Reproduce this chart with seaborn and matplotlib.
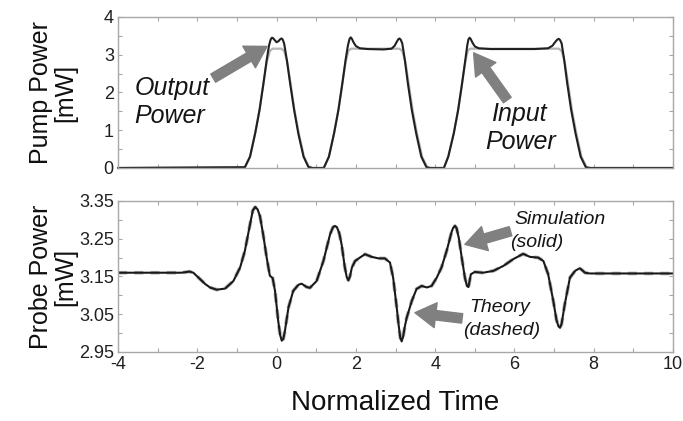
import matplotlib
matplotlib.use("Agg")
import matplotlib.pyplot as plt
import seaborn as sns
import numpy as np

# ---------------- data ----------------
pump_t = [-4.0, -0.8, -0.67, -0.54, -0.43, -0.33, -0.25, -0.19, -0.15, -0.12, -0.09, -0.05, 0.0,
          0.05, 0.09, 0.12, 0.15, 0.19, 0.26, 0.34, 0.44, 0.55, 0.68, 0.8, 0.9,
          1.19, 1.32, 1.45, 1.56, 1.66, 1.74, 1.8, 1.84, 1.87, 1.9, 1.94, 2.0, 2.1, 2.3, 2.7, 2.9,
          2.98, 3.03, 3.07, 3.1, 3.13, 3.17, 3.23, 3.31, 3.41, 3.52, 3.65, 3.78, 3.88,
          4.22, 4.33, 4.47, 4.58, 4.68, 4.76, 4.81, 4.84, 4.87, 4.9, 4.94, 5.0, 5.1, 5.4, 6.5,
          6.85, 6.96, 7.03, 7.08, 7.12, 7.15, 7.19, 7.25, 7.33, 7.43, 7.54, 7.67, 7.8, 7.9, 10.0]
pump_output = [0.0, 0.02, 0.3, 0.92, 1.54, 2.25, 2.86, 3.25, 3.4, 3.45, 3.44, 3.39, 3.33,
               3.36, 3.41, 3.43, 3.41, 3.3, 2.85, 2.25, 1.55, 0.9, 0.3, 0.03, 0.0,
               0.0, 0.3, 0.92, 1.54, 2.25, 2.86, 3.25, 3.42, 3.46, 3.42, 3.33, 3.23, 3.17, 3.15,
               3.14, 3.16, 3.24, 3.34, 3.41, 3.43, 3.4, 3.3, 2.9, 2.25, 1.54, 0.92, 0.3, 0.02, 0.0,
               0.0, 0.3, 0.92, 1.54, 2.25, 2.86, 3.25, 3.41, 3.45, 3.41, 3.32, 3.22, 3.17, 3.15,
               3.15, 3.17, 3.24, 3.34, 3.4, 3.42, 3.39, 3.3, 2.9, 2.25, 1.54, 0.92, 0.3, 0.02, 0.0,
               0.0]

input_t = [-4.0, -0.8, -0.67, -0.54, -0.43, -0.33, -0.25, -0.17, -0.1, 0.12, 0.19, 0.27, 0.35,
           0.45, 0.56, 0.69, 0.82, 0.9,
           1.19, 1.32, 1.45, 1.56, 1.66, 1.74, 1.81, 1.88, 3.1, 3.17, 3.25, 3.33, 3.43, 3.54, 3.67,
           3.8, 3.88,
           4.22, 4.33, 4.47, 4.58, 4.68, 4.76, 4.82, 4.88, 7.12, 7.19, 7.27, 7.35, 7.45, 7.56, 7.69,
           7.82, 7.9, 10.0]
input_power = [0.0, 0.02, 0.3, 0.92, 1.54, 2.25, 2.8, 3.1, 3.16, 3.16, 3.1, 2.8, 2.25,
               1.54, 0.92, 0.3, 0.02, 0.0,
               0.0, 0.3, 0.92, 1.54, 2.25, 2.8, 3.1, 3.16, 3.16, 3.1, 2.8, 2.25, 1.54, 0.92, 0.3,
               0.02, 0.0,
               0.0, 0.3, 0.92, 1.54, 2.25, 2.8, 3.1, 3.16, 3.16, 3.1, 2.8, 2.25, 1.54, 0.92, 0.3,
               0.02, 0.0, 0.0]

probe_t = [-4.0, -2.4, -2.2, -2.1, -1.93, -1.8, -1.68, -1.51, -1.3, -1.09, -0.92, -0.8, -0.67,
           -0.6, -0.54, -0.48, -0.42, -0.34, -0.25, -0.17, -0.1, -0.04, 0.04, 0.09, 0.13, 0.17,
           0.21, 0.3, 0.42, 0.55, 0.63, 0.76, 0.84, 1.01, 1.18, 1.35, 1.42, 1.47, 1.52, 1.58,
           1.64, 1.72, 1.77, 1.81, 1.85, 1.9, 1.98, 2.1, 2.23, 2.4, 2.57, 2.73, 2.86, 2.94, 3.03,
           3.08, 3.12, 3.155, 3.19, 3.23, 3.28, 3.41, 3.53, 3.66, 3.79, 3.91, 4.04, 4.16, 4.29,
           4.42, 4.46, 4.5, 4.54, 4.6, 4.67, 4.75, 4.8, 4.84, 4.9, 5.0, 5.21, 5.47, 5.72, 5.97,
           6.22, 6.39, 6.6, 6.73, 6.85, 6.98, 7.06, 7.11, 7.15, 7.19, 7.27, 7.4, 7.53, 7.65,
           7.78, 7.9, 10.0]
probe_simulation = [3.160, 3.160, 3.163, 3.160, 3.143, 3.130, 3.121, 3.115, 3.118, 3.138, 3.174,
                    3.218, 3.288, 3.325, 3.334, 3.328, 3.310, 3.262, 3.200, 3.152, 3.146, 3.112,
                    3.033, 2.995, 2.980, 2.985, 3.006, 3.068, 3.112, 3.128, 3.131, 3.122, 3.120,
                    3.138, 3.191, 3.262, 3.280, 3.284, 3.281, 3.265, 3.235, 3.175, 3.148, 3.140,
                    3.150, 3.174, 3.191, 3.200, 3.209, 3.202, 3.198, 3.198, 3.187, 3.147, 3.068,
                    3.020, 2.988, 2.978, 2.990, 3.015, 3.040, 3.085, 3.117, 3.125, 3.121, 3.125,
                    3.147, 3.174, 3.218, 3.270, 3.280, 3.284, 3.278, 3.250, 3.200, 3.147, 3.125,
                    3.122, 3.156, 3.162, 3.160, 3.165, 3.178, 3.196, 3.210, 3.202, 3.200, 3.191,
                    3.156, 3.085, 3.035, 3.018, 3.014, 3.025, 3.077, 3.147, 3.165, 3.172, 3.160,
                    3.158, 3.158]
probe_theory = list(probe_simulation)

x_ticks = [-4, -2, 0, 2, 4, 6, 8, 10]
pump_ticks = [0, 1, 2, 3, 4]
probe_ticks = [2.95, 3.05, 3.15, 3.25, 3.35]

# ---------------- styling ----------------
sns.set_theme(style="white")
plt.rcParams['font.family'] = ['Liberation Sans', 'DejaVu Sans']
spine_c = '#a8a8a8'

fig = plt.figure(figsize=(6.83, 4.21), dpi=100)
ax1 = fig.add_axes([0.1728, 0.601, 0.8126, 0.3587])
ax2 = fig.add_axes([0.1728, 0.1639, 0.8126, 0.3587])

sns.lineplot(x=input_t, y=input_power, ax=ax1, color='#b5b5b5', linewidth=1.6, sort=False)
sns.lineplot(x=pump_t, y=pump_output, ax=ax1, color='#202020', linewidth=1.5, sort=False)
for l in ax1.lines:
    l.set_clip_on(False)
    l.set_solid_joinstyle('round')

sns.lineplot(x=probe_t, y=probe_theory, ax=ax2, color='#b0b0b0', linewidth=2.6,
             linestyle=(0, (2.5, 2)), sort=False)
sns.lineplot(x=probe_t, y=probe_simulation, ax=ax2, color='#1a1a1a', linewidth=1.5, sort=False)
for l in ax2.lines:
    l.set_solid_joinstyle('round')

for ax in (ax1, ax2):
    ax.set_xlim(-4, 10)
    ax.set_xticks(x_ticks)
    ax.set_xticks(np.arange(-4, 10.5, 1), minor=True)
    for s in ax.spines.values():
        s.set_color(spine_c)
        s.set_linewidth(1.0)
    ax.tick_params(which='both', direction='in', top=True, right=True, bottom=True, left=True,
                   color=spine_c, width=0.8, labelsize=13, labelcolor='#202020', pad=3)
    ax.tick_params(which='major', length=3)
    ax.tick_params(which='minor', length=3)

ax1.set_ylim(0, 4)
ax1.set_yticks(pump_ticks)
ax1.set_yticks(np.arange(0, 4.01, 0.5), minor=True)
ax1.tick_params(axis='x', which='both', labelbottom=False)

ax2.set_ylim(2.95, 3.35)
ax2.set_yticks(probe_ticks)
ax2.set_yticklabels([f"{v:.2f}" for v in probe_ticks])
ax2.set_yticks(np.arange(2.95, 3.351, 0.05), minor=True)
ax2.set_xticklabels([str(v) for v in x_ticks])

ax1.set_ylabel("Pump Power\n[mW]", fontsize=18, linespacing=1.0, color='#101010')
ax2.set_ylabel("Probe Power\n[mW]", fontsize=18, linespacing=1.0, color='#101010')
ax1.yaxis.set_label_coords(-0.074, 0.5)
ax2.yaxis.set_label_coords(-0.074, 0.5)
ax2.set_xlabel("Normalized Time", fontsize=20, color='#101010', labelpad=12)

arrow_c = '#808080'
aprops = dict(arrowstyle='simple,head_width=0.9,head_length=0.75,tail_width=0.34',
              color=arrow_c, shrinkA=0, shrinkB=0, mutation_scale=20)

ax1.annotate("", xy=(-0.24, 3.22), xytext=(-1.6, 2.38), arrowprops=aprops)
ax1.annotate("", xy=(4.97, 3.05), xytext=(5.82, 1.8), arrowprops=aprops)
ax2.annotate("", xy=(4.75, 3.235), xytext=(5.9, 3.27), arrowprops=aprops)
ax2.annotate("", xy=(3.49, 3.054), xytext=(4.68, 3.039), arrowprops=aprops)

tkw = dict(fontsize=18, style='italic', color='#151515', va='center')
ax1.text(-3.58, 2.12, "Output", ha='left', **tkw)
ax1.text(-3.58, 1.38, "Power", ha='left', **tkw)
ax1.text(6.1, 1.42, "Input", ha='center', **tkw)
ax1.text(6.15, 0.68, "Power", ha='center', **tkw)

tkw2 = dict(fontsize=14, style='italic', color='#151515', va='center')
ax2.text(6.0, 3.302, "Simulation", ha='left', **tkw2)
ax2.text(5.9, 3.24, "(solid)", ha='left', **tkw2)
ax2.text(5.63, 3.068, "Theory", ha='center', **tkw2)
ax2.text(5.68, 3.006, "(dashed)", ha='center', **tkw2)

fig.savefig("out.png", dpi=100, facecolor='white')
